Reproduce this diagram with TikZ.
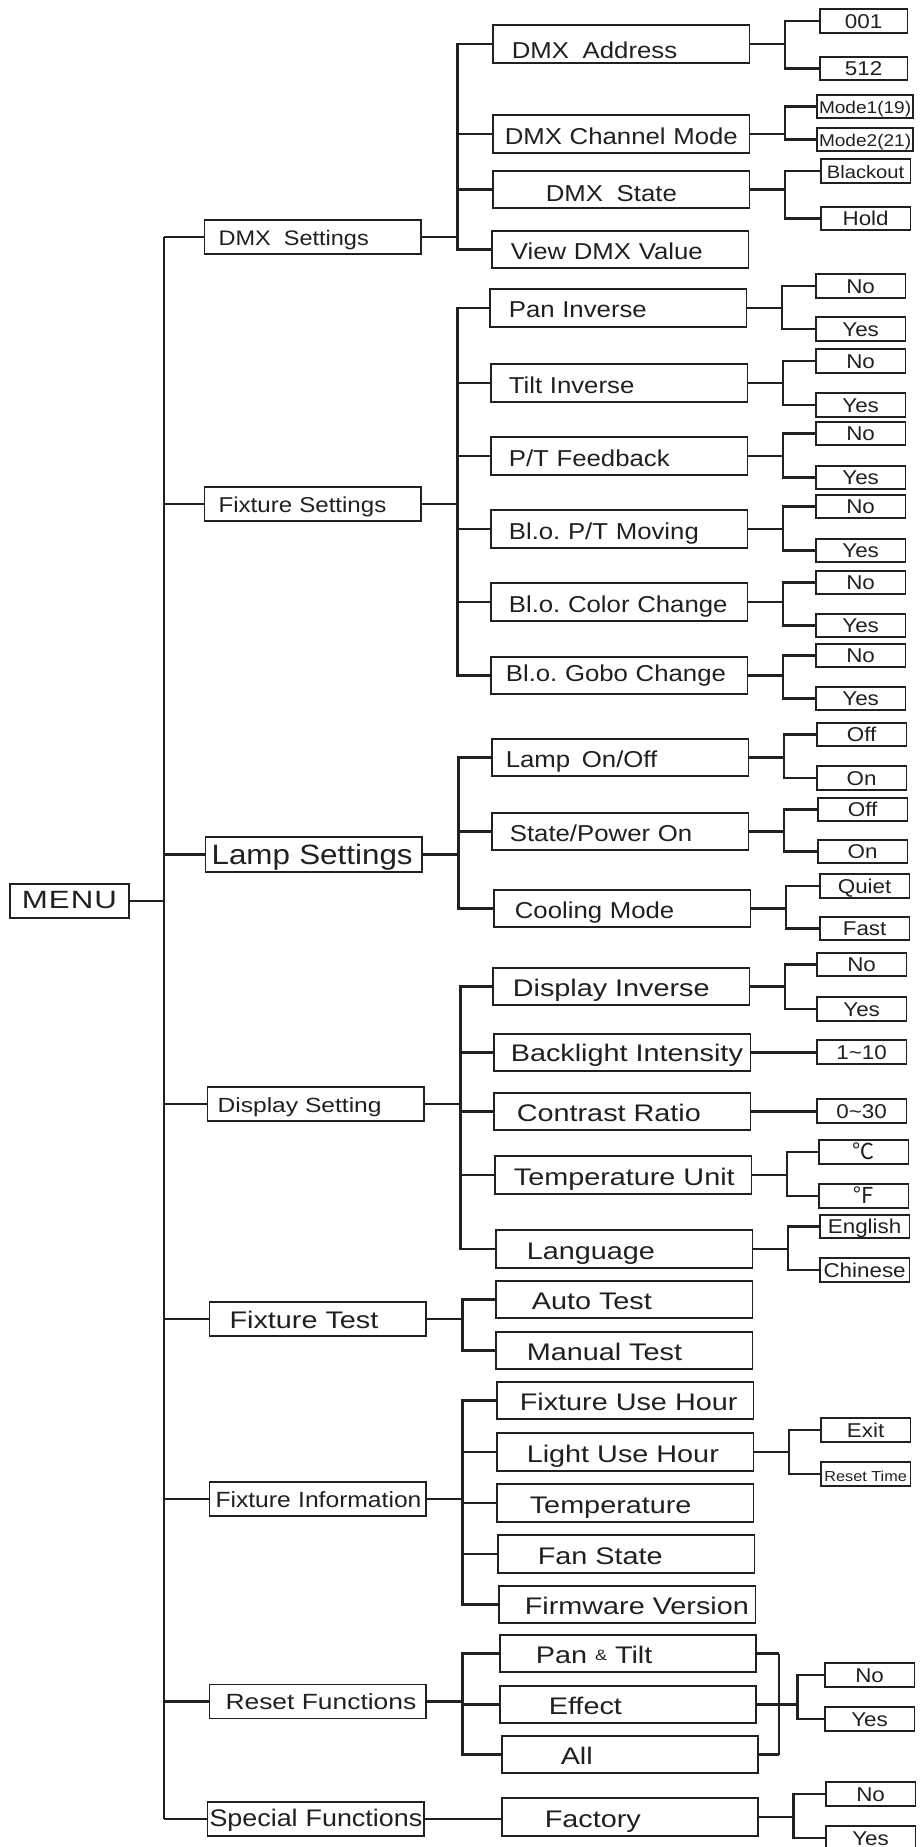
\documentclass[tikz,border=0pt]{standalone}
\usepackage{fontspec}
\setmainfont[FakeStretch=1.12]{Liberation Sans}
\newfontfamily\widefont[FakeStretch=1.2]{Liberation Sans}
\newfontfamily\menufont[FakeStretch=1.25,LetterSpace=4]{Liberation Sans}
\newfontfamily\cjkfont{Noto Sans CJK SC}
\usetikzlibrary{calc}
\definecolor{ink}{RGB}{35,31,32}
\newcommand{\fs}[1]{\fontsize{#1}{#1}\selectfont}

\begin{document}
\frenchspacing
\begin{tikzpicture}[x=0.994pt, y=-1pt]
  \tikzstyle{box} = [draw=ink, text=ink, line width=1.6pt, rectangle, inner sep=0pt, text depth=0pt]
  \tikzstyle{leafbox} = [box, anchor=west, minimum width=89.5pt, minimum height=23.5pt, text height=14.5pt, font=\fs{20}]
  \tikzstyle{link} = [draw=ink, line width=2.8pt]
  \tikzset{mainbox/.style={box, anchor=west, minimum width=216.7pt, minimum height=34pt, text width=216.7pt, align=left, text height=16pt, execute at begin node={\hspace*{#1pt}}},
           subbox/.style={box, anchor=west, minimum width=256.5pt, minimum height=37.5pt, text width=256.5pt, align=left, text height=20.5pt, font=\fs{23}, execute at begin node={\hspace*{#1pt}}}}

  \useasboundingbox (0,0) rectangle (925.55,1847);

  \node[box, anchor=west, minimum width=119.3pt, minimum height=34pt, text height=14pt, font=\menufont\fs{25}] (menu) at (9,901) {MENU};

  \node[mainbox=14, font=\fs{21}] (dmx) at (205,237) {DMX\hspace{6pt} Settings};
  \node[mainbox=14, font=\fs{21.5}] (fix) at (205,504) {Fixture Settings};
  \node[mainbox=6, font=\fs{28}, minimum height=35pt, text height=20pt] (lamp) at (206,854.5) {Lamp Settings};
  \node[mainbox=10, font=\widefont\fs{20.5}] (disp) at (208,1104) {Display Setting};
  \node[mainbox=20, font=\widefont\fs{24}, text height=19pt] (test) at (210,1319) {Fixture Test};
  \node[mainbox=6, font=\fs{22}] (info) at (210,1499) {Fixture Information};
  \node[mainbox=16, font=\widefont\fs{22}] (reset) at (210,1701.5) {Reset Functions};
  \node[mainbox=2, font=\fs{24}, text height=14pt] (special) at (208,1819) {Special Functions};

  \node[subbox=19, text height=28pt] (addr) at (495,44) {DMX\hspace{6pt} Address};
  \node[subbox=12] (chan) at (495,134) {DMX Channel Mode};
  \node[subbox=53, text height=24pt] (state) at (495,189.5) {DMX\hspace{6pt} State};
  \node[subbox=19] (view) at (494,249.5) {View DMX Value};
  \node[subbox=19, text height=18pt] (pan) at (492,308) {Pan Inverse};
  \node[subbox=18] (tilt) at (493,383) {Tilt Inverse};
  \node[subbox=18] (ptfb) at (493,456) {P/T Feedback};
  \node[subbox=18] (blpt) at (493,529) {Bl.o. P/T Moving};
  \node[subbox=18] (blcol) at (493,602) {Bl.o. Color Change};
  \node[subbox=15, text height=11pt] (blgobo) at (493,675.5) {Bl.o. Gobo Change};
  \node[subbox=14] (lampon) at (494,757.5) {Lamp\hspace{4pt} On/Off};
  \node[subbox=18] (power) at (494,831.5) {State/Power On};
  \node[subbox=21] (cool) at (496,908.5) {Cooling Mode};
  \node[subbox=20, font=\widefont\fs{24}] (dinv) at (495,986.5) {Display Inverse};
  \node[subbox=17, font=\widefont\fs{24}, text height=17pt] (back) at (496,1052.5) {Backlight Intensity};
  \node[subbox=23, font=\widefont\fs{24}] (contr) at (496,1111.5) {Contrast Ratio};
  \node[subbox=19, font=\widefont\fs{24}] (tunit) at (497,1175) {Temperature Unit};
  \node[subbox=31, font=\widefont\fs{24}] (lang) at (498,1249) {Language};
  \node[subbox=36, font=\widefont\fs{24}] (auto) at (498,1299.5) {Auto Test};
  \node[subbox=31, font=\widefont\fs{24}] (manual) at (498,1350.5) {Manual Test};
  \node[subbox=23, font=\widefont\fs{24}] (usehr) at (499,1400.5) {Fixture Use Hour};
  \node[subbox=30, font=\widefont\fs{24}] (lighthr) at (499,1452) {Light Use Hour};
  \node[subbox=33, font=\widefont\fs{24}] (temp) at (499,1503) {Temperature};
  \node[subbox=40, font=\widefont\fs{24}] (fan) at (500,1554) {Fan State};
  \node[subbox=26, font=\widefont\fs{24}] (firm) at (501,1604.5) {Firmware Version};
  \node[subbox=36, font=\widefont\fs{24}] (pantilt) at (502,1653.5) {Pan \raisebox{3pt}{\fs{15}\&} Tilt};
  \node[subbox=49, font=\widefont\fs{24}] (effect) at (502,1704.5) {Effect};
  \node[subbox=59, font=\widefont\fs{24}] (all) at (504,1754.5) {All};
  \node[subbox=43, font=\widefont\fs{24}] (factory) at (504,1817) {Factory};

  \node[leafbox, minimum width=87.5pt] (a001) at (824,21) {001};
  \node[leafbox, minimum width=87.5pt] (a512) at (824,68.5) {512};
  \node[leafbox, minimum width=96.4pt, font=\fs{17}] (m1) at (821,106.5) {Mode1(19)};
  \node[leafbox, minimum width=96.4pt, font=\fs{17}] (m2) at (821,139.5) {Mode2(21)};
  \node[leafbox, font=\fs{18}] (blk) at (825,171) {Blackout};
  \node[leafbox] (hold) at (825,218.5) {Hold};
  \node[leafbox] (pn) at (820,286) {No};
  \node[leafbox] (py) at (820,329) {Yes};
  \node[leafbox] (tn) at (820,361) {No};
  \node[leafbox] (ty) at (820,405) {Yes};
  \node[leafbox] (fn) at (820,433.5) {No};
  \node[leafbox] (fy) at (820,477.5) {Yes};
  \node[leafbox] (mn) at (820,506.5) {No};
  \node[leafbox] (my) at (820,550.5) {Yes};
  \node[leafbox] (cn) at (820,582.5) {No};
  \node[leafbox] (cy) at (820,625.5) {Yes};
  \node[leafbox] (gn) at (820,655.5) {No};
  \node[leafbox] (gy) at (820,698.5) {Yes};
  \node[leafbox] (lo) at (821,734.5) {Off};
  \node[leafbox] (lon) at (821,778) {On};
  \node[leafbox] (so) at (822,809.5) {Off};
  \node[leafbox] (son) at (822,851.5) {On};
  \node[leafbox] (qt) at (824,886) {Quiet};
  \node[leafbox] (fast) at (824,928.5) {Fast};
  \node[leafbox] (dn) at (821,964.5) {No};
  \node[leafbox] (dy) at (821,1009) {Yes};
  \node[leafbox] (r110) at (821,1052) {1\textasciitilde 10};
  \node[leafbox] (r030) at (821,1111) {0\textasciitilde 30};
  \node[leafbox, font=\cjkfont\fs{22}] (cel) at (823,1152) {℃};
  \node[leafbox, font=\cjkfont\fs{22}] (fah) at (823,1196) {℉};
  \node[leafbox] (eng) at (824,1226.5) {English};
  \node[leafbox] (chn) at (824,1270) {Chinese};
  \node[leafbox] (exit) at (825,1430) {Exit};
  \node[leafbox, font=\fs{14.5}] (rst) at (825,1474) {Reset Time};
  \node[leafbox] (rno) at (829,1675) {No};
  \node[leafbox] (ryes) at (829,1719) {Yes};
  \node[leafbox] (fno) at (830,1794) {No};
  \node[leafbox] (fyes) at (830,1838) {Yes};

  \coordinate (trunk) at (165,901);
  \draw[link] (menu.east) -- (trunk);
  \draw[link] (trunk |- dmx.west) -- (trunk |- special.west);
  \foreach \n in {dmx,fix,lamp,disp,test,info,reset,special}
    \draw[link] (trunk |- \n.west) -- (\n.west);

  \foreach \p/\c in {dmx/addr, dmx/chan, dmx/state, dmx/view,
                     fix/pan, fix/tilt, fix/ptfb, fix/blpt, fix/blcol, fix/blgobo,
                     lamp/lampon, lamp/power, lamp/cool,
                     disp/dinv, disp/back, disp/contr, disp/tunit, disp/lang,
                     test/auto, test/manual,
                     info/usehr, info/lighthr, info/temp, info/fan, info/firm,
                     reset/pantilt, reset/effect, reset/all}
    \draw[link] (\p.east) -- ++(36,0) |- (\c.west);
  \draw[link] (special.east) -- (special.east -| factory.west);

  \foreach \p/\c in {addr/a001, addr/a512, chan/m1, chan/m2, state/blk, state/hold,
                     pan/pn, pan/py, tilt/tn, tilt/ty, ptfb/fn, ptfb/fy,
                     blpt/mn, blpt/my, blcol/cn, blcol/cy, blgobo/gn, blgobo/gy,
                     lampon/lo, lampon/lon, power/so, power/son, cool/qt, cool/fast,
                     dinv/dn, dinv/dy, tunit/cel, tunit/fah, lang/eng, lang/chn,
                     lighthr/exit, lighthr/rst, factory/fno, factory/fyes}
    \draw[link] (\p.east) -- ++(35,0) |- (\c.west);
  \draw[link] (back.east) -- (back.east -| r110.west);
  \draw[link] (contr.east) -- (contr.east -| r030.west);

  \coordinate (rjoin) at ($(effect.east)+(22,0)$);
  \foreach \c in {pantilt,effect,all}
    \draw[link] (\c.east) -- (\c.east -| rjoin);
  \draw[link] (pantilt.east -| rjoin) -- (all.east -| rjoin);
  \foreach \c in {rno,ryes}
    \draw[link] (effect.east) -- ++(41,0) |- (\c.west);
\end{tikzpicture}
\end{document}
